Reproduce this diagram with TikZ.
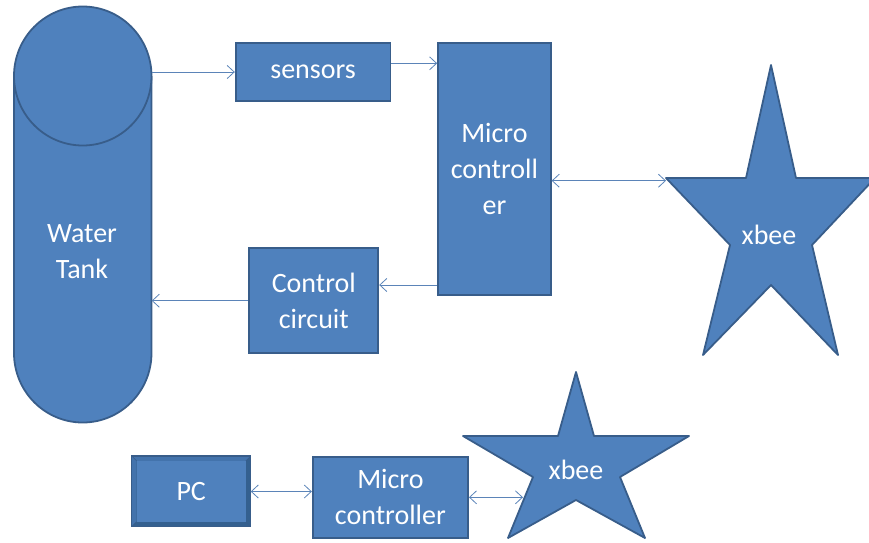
\documentclass[tikz,border=0pt]{standalone}
\usepackage{fontspec}
\setmainfont{Carlito}
\usetikzlibrary{arrows.meta}
\definecolor{boxfill}{HTML}{4F81BD}
\definecolor{boxline}{HTML}{385D8A}
\definecolor{connline}{HTML}{5B84B8}
\definecolor{bevelhi}{HTML}{4373AC}
\definecolor{bevello}{HTML}{34608F}
\tikzset{
  txt/.style={text=white, font=\fontsize{28}{36}\selectfont, align=center},
  blockbox/.style={txt, draw=boxline, fill=boxfill, line width=1.8pt, inner sep=0pt},
  conn/.style={draw=connline, line width=0.8pt},
  shapeline/.style={draw=boxline, line width=1.8pt, fill=boxfill, line join=round},
}
\begin{document}
\begin{tikzpicture}[x=1pt,y=-1pt,>={Straight Barb[length=7pt,width=13pt]}]
\useasboundingbox (0,0) rectangle (869,542);

% water tank
\fill[boxfill] (82.75,353) ellipse [x radius=68.75, y radius=69.5];
\fill[boxfill] (14,76) rectangle (151.5,353);
\draw[boxline, line width=1.8pt] (14,76) -- (14,353)
  arc[start angle=180, end angle=0, x radius=68.75, y radius=69.5] -- (151.5,76);
\draw[shapeline] (82.75,76) ellipse [x radius=68.75, y radius=69.5];
\node[minimum width=137.5pt, minimum height=416pt, inner sep=0pt] (tank) at (82.75,214.6) {};
\node[txt] (tanktext) at (82,252) {Water\\Tank};

% boxes
\node[blockbox, minimum width=154.8pt, minimum height=57.4pt] (sensors) at (313.1,72) {sensors};
\node[blockbox, minimum width=112.7pt, minimum height=252pt] (micro1) at (494.4,169) {Micro\\controll\\er};
\node[blockbox, minimum width=129pt, minimum height=104.7pt] (control) at (313.8,300.7) {Control\\circuit};
\node[blockbox, minimum width=155.3pt, minimum height=81.3pt] (micro2) at (390.4,497.3) {Micro\\controller};

% PC with bevel
\fill[bevello] (131.7,456) rectangle (250.7,526.7);
\fill[bevelhi] (131.7,456) -- (250.7,456) -- (245.7,461) -- (136.7,461) -- (136.7,521.7) -- (131.7,526.7) -- cycle;
\draw[boxline, line width=1.2pt] (131.7,456) rectangle (250.7,526.7);
\draw[boxline, line width=0.6pt] (131.7,456) -- (136.7,461) (250.7,456) -- (245.7,461)
  (131.7,526.7) -- (136.7,521.7) (250.7,526.7) -- (245.7,521.7);
\node[txt, fill=boxfill, minimum width=109pt, minimum height=60.7pt, inner sep=0pt] (pc) at (191.2,491.3) {PC};

% stars
\draw[shapeline] (771,65) -- (796,178) -- (875,178) -- (812,245) -- (838,355) -- (771,285)
  -- (703,355) -- (730,245) -- (666,178) -- (746,178) -- cycle;
\node[txt] (xbee1) at (769,235) {xbee};
\coordinate (xb1) at (666,180.7);

\draw[shapeline] (576,372) -- (594,436) -- (689,436) -- (620,477) -- (645,538) -- (576,500)
  -- (508,538) -- (533,477) -- (463,436) -- (558,436) -- cycle;
\node[txt] (xbee2) at (576,470) {xbee};
\coordinate (xb2) at (523,497.3);

% connectors
\coordinate (c63) at (0,63.3);
\coordinate (c285) at (0,285);
\coordinate (pcr) at (250.7,491.5);
\draw[conn, ->] (tank.east |- sensors.west) -- (sensors.west);
\draw[conn, ->] (sensors.east |- c63) -- (micro1.west |- c63);
\draw[conn, <->] (micro1.east |- xb1) -- (xb1);
\draw[conn, ->] (micro1.west |- c285) -- (control.east |- c285);
\draw[conn, ->] (control.west) -- (control.west -| tank.east);
\draw[conn, <->] (pcr) -- (pcr -| micro2.west);
\draw[conn, <->] (micro2.east) -- (xb2);
\end{tikzpicture}
\end{document}
